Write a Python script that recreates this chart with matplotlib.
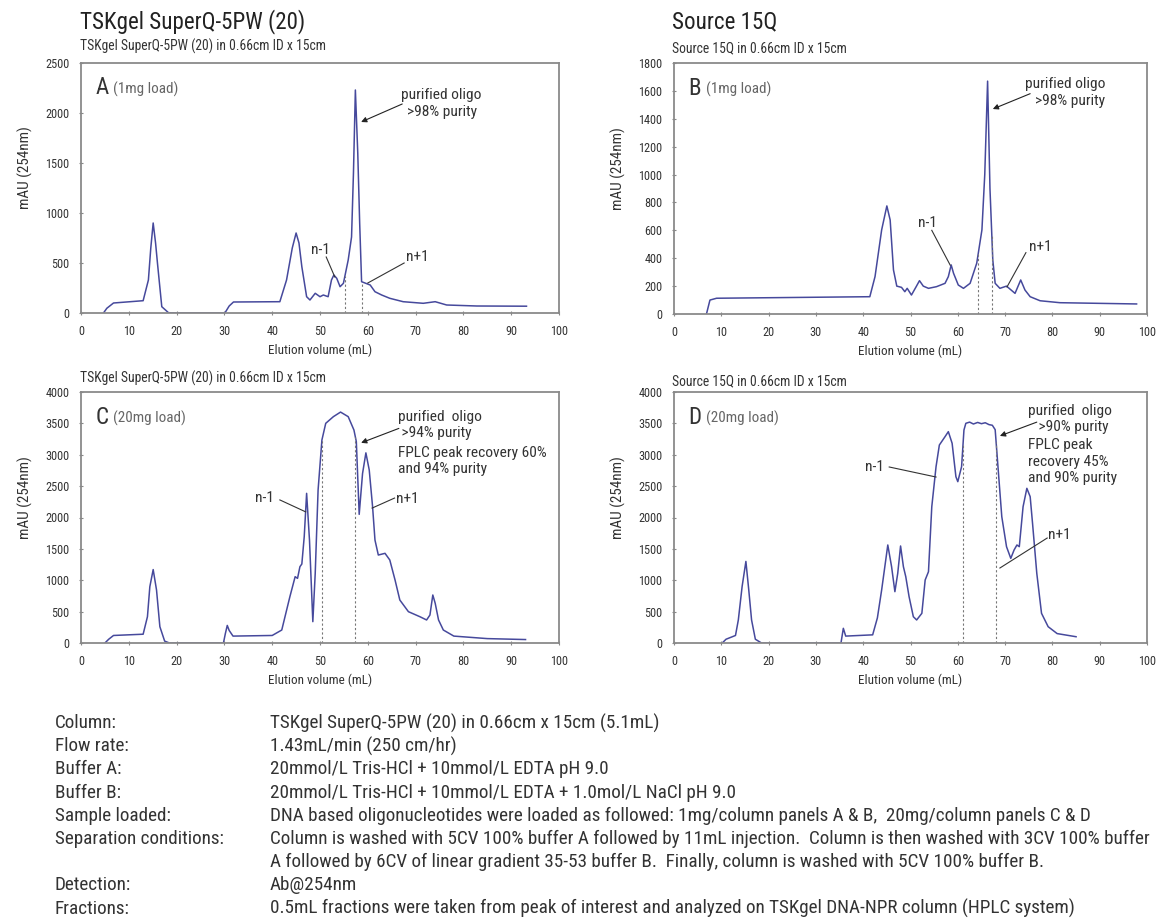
import numpy as np
import matplotlib
matplotlib.use("Agg")
import matplotlib.pyplot as plt
from matplotlib import font_manager as fm

# pick a condensed sans face if one is installed
prefs = ['Liberation Sans Narrow', 'Roboto Condensed', 'Open Sans Condensed',
         'Noto Sans Condensed', 'DejaVu Sans Condensed']
narrow = None
for p in prefs:
    key = p.replace(' ', '').lower()
    for f in fm.fontManager.ttflist:
        fn = f.fname.replace(' ', '').replace('-', '').lower()
        if key in fn and f.style == 'normal' and f.weight in (400, 'normal', 'regular'):
            narrow = f
            break
    if narrow is not None:
        break
if narrow is not None:
    plt.rcParams['font.family'] = [narrow.name, 'DejaVu Sans']
    plt.rcParams['font.stretch'] = narrow.stretch
else:
    plt.rcParams['font.family'] = ['Liberation Sans', 'DejaVu Sans']

# --- chromatogram traces (elution volume mL, mAU at 254nm) ---
a_x = [4.7, 5.4, 6.8, 13.0, 14.1, 14.6, 15.1, 15.6, 16.0, 16.9, 18.3, 20.0, 30.1, 31.0, 31.9,
       41.6, 43.0, 44.2, 45.0, 45.6, 46.2, 47.2, 47.9, 49.0, 50.0, 50.7, 51.7, 52.4, 52.9,
       53.5, 54.2, 54.9, 55.9, 56.6, 57.0, 57.4, 57.9, 58.3, 58.7, 60.5, 61.5, 62.9, 64.6,
       67.4, 71.6, 74.1, 76.5, 82.8, 93.2]
a_y = [0, 47, 100, 123, 330, 650, 900, 700, 497, 63, 3, 0, 0, 70, 110,
       113, 330, 650, 800, 700, 463, 163, 130, 197, 163, 180, 163, 330, 380,
       347, 263, 297, 530, 760, 1400, 2230, 1600, 900, 313, 280, 213, 180, 147,
       113, 97, 113, 80, 70, 68]

b_x = [6.9, 7.6, 9.0, 41.4, 42.5, 43.9, 45.0, 45.7, 46.4, 47.1, 48.1, 48.8, 49.3, 50.2,
       51.2, 51.9, 52.7, 53.8, 55.5, 57.3, 58.0, 58.6, 59.1, 60.1, 61.2, 62.6, 64.0, 65.1,
       65.7, 66.3, 66.8, 67.4, 67.9, 68.9, 70.3, 72.1, 73.3, 74.2, 75.3, 77.4, 81.6, 97.8]
b_y = [5, 100, 113, 124, 268, 603, 775, 674, 316, 200, 191, 160, 184, 136,
       196, 239, 200, 184, 196, 220, 268, 352, 292, 208, 184, 220, 364, 603,
       1000, 1670, 900, 387, 220, 184, 200, 148, 244, 172, 124, 95, 81, 72]

c_x = [5.0, 5.8, 6.8, 13.0, 13.9, 14.4, 15.1, 15.8, 16.5, 17.5, 18.5, 29.8, 30.2, 30.6,
       31.0, 31.8, 40.0, 42.0, 43.7, 44.8, 45.3, 45.8, 46.2, 46.7, 47.2, 47.8, 48.5, 49.0,
       49.6, 50.4, 51.2, 52.8, 54.3, 55.9, 57.1, 57.6, 58.2, 58.9, 59.6, 60.3, 61.0, 61.5,
       62.2, 63.6, 64.6, 65.7, 66.7, 68.5, 70.9, 72.3, 73.0, 73.6, 74.1, 74.8, 75.8, 78.0,
       85.0, 93.0]
c_y = [0, 60, 120, 140, 419, 897, 1170, 845, 260, 30, 0, 0, 150, 280,
       200, 110, 120, 207, 738, 1057, 1030, 1216, 1259, 1694, 2385, 1641, 340, 1110,
       2438, 3235, 3501, 3607, 3680, 3607, 3394, 3208, 2050, 2700, 3030, 2757, 2172, 1641,
       1402, 1429, 1323, 1004, 685, 499, 419, 367, 446, 765, 633, 367, 207, 110,
       70, 55]

d_x = [10.2, 11.0, 12.0, 13.0, 13.6, 14.4, 15.2, 15.8, 16.4, 17.2, 18.5, 35.3, 35.8, 36.3,
       42.0, 43.0, 43.9, 45.2, 46.0, 46.7, 47.3, 47.9, 48.5, 49.0, 49.7, 50.6, 51.3, 52.4,
       53.1, 53.8, 54.5, 55.4, 56.1, 57.3, 58.0, 58.8, 59.6, 60.0, 60.8, 61.3, 61.7, 62.5,
       63.3, 64.2, 65.0, 65.8, 66.6, 67.3, 67.9, 68.6, 69.3, 70.3, 71.2, 71.9, 72.5, 73.0,
       73.8, 74.6, 75.3, 75.8, 76.7, 77.7, 79.1, 81.0, 85.0]
d_y = [0, 60, 90, 120, 367, 900, 1300, 850, 367, 60, 0, 0, 234, 110,
       130, 400, 845, 1562, 1216, 818, 1110, 1546, 1216, 1057, 738, 419, 367, 473,
       1004, 1136, 2172, 2810, 3155, 3288, 3368, 3182, 2650, 2571, 2810, 3394, 3501, 3520,
       3490, 3515, 3495, 3510, 3480, 3470, 3400, 2704, 2013, 1535, 1349, 1482, 1562, 1535,
       2172, 2465, 2332, 1908, 1110, 473, 260, 150, 100]

# fraction cut lines (mL)
a_cuts = [55.2, 58.7]
b_cuts = [64.3, 67.2]
c_cuts = [50.4, 57.4]
d_cuts = [61.1, 68.1]

a_yticks = [0, 500, 1000, 1500, 2000, 2500]
b_yticks = [0, 200, 400, 600, 800, 1000, 1200, 1400, 1600, 1800]
cd_yticks = [0, 500, 1000, 1500, 2000, 2500, 3000, 3500, 4000]
x_ticks = list(range(0, 101, 10))

info_labels = ["Column:", "Flow rate:", "Buffer A:", "Buffer B:", "Sample loaded:",
               "Separation conditions:", "", "Detection:", "Fractions:"]
info_values = [
    "TSKgel SuperQ-5PW (20) in 0.66cm x 15cm (5.1mL)",
    "1.43mL/min (250 cm/hr)",
    "20mmol/L Tris-HCl + 10mmol/L EDTA pH 9.0",
    "20mmol/L Tris-HCl + 10mmol/L EDTA + 1.0mol/L NaCl pH 9.0",
    "DNA based oligonucleotides were loaded as followed: 1mg/column panels A & B,  20mg/column panels C & D",
    "Column is washed with 5CV 100% buffer A followed by 11mL injection.  Column is then washed with 3CV 100% buffer",
    "A followed by 6CV of linear gradient 35-53 buffer B.  Finally, column is washed with 5CV 100% buffer B.",
    "Ab@254nm",
    "0.5mL fractions were taken from peak of interest and analyzed on TSKgel DNA-NPR column (HPLC system)",
]

W, H = 1160, 919
fig = plt.figure(figsize=(W / 100, H / 100), dpi=100)
renderer = fig.canvas.get_renderer()


def fit(txt, target_px, base=10.0):
    t = fig.text(0, 0, txt, fontsize=base)
    w = t.get_window_extent(renderer).width
    t.remove()
    return base * target_px / w


fs_title = fit("TSKgel SuperQ-5PW (20)", 225)
fs_sub = fit("TSKgel SuperQ-5PW (20) in 0.66cm ID x 15cm", 245)
fs_info = fit(info_values[5], 876)
fs_note = fit("FPLC peak recovery 60%", 148)
fs_tick = fit("2500", 24)
fs_xlab = fit("Elution volume (mL)", 103)
fs_ylab = fit("mAU (254nm)", 82)
fs_load = fit("(1mg load)", 65)

line_col = '#46499c'
txt_col = '#333333'


def px_axes(left, top, right, bottom):
    return fig.add_axes([left / W, 1 - bottom / H, (right - left) / W, (bottom - top) / H])


def panel(ax, xs, ys, cuts, yticks, ymax, letter, load):
    ax.plot(xs, ys, color=line_col, lw=1.1)
    for c in cuts:
        ax.vlines(c, 0, np.interp(c, xs, ys), colors='#777777', lw=0.8, linestyles=(0, (2, 2)))
    ax.set_xlim(0, 100)
    ax.set_ylim(0, ymax)
    ax.set_xticks(x_ticks)
    ax.set_yticks(yticks)
    ax.tick_params(labelsize=fs_tick, colors='#888888', labelcolor=txt_col, length=3,
                   direction='inout', pad=7)
    for s in ax.spines.values():
        s.set_color('#8a8a8a')
        s.set_linewidth(1.3)
    ax.set_xlabel("Elution volume (mL)", fontsize=fs_xlab, color=txt_col, labelpad=4)
    ax.set_ylabel("mAU (254nm)", fontsize=fs_ylab, color=txt_col)
    ax.yaxis.set_label_coords(-48 / ax.bbox.width, 0.58)
    ax.text(0.03, 0.9, letter, transform=ax.transAxes, fontsize=fs_title, color=txt_col, va='center')
    ax.text(0.03 + 0.037, 0.895, load, transform=ax.transAxes, fontsize=fs_load, color='#666666',
            va='center')


def note_line(ax, p0, p1):
    ax.plot([p0[0], p1[0]], [p0[1], p1[1]], color='#333333', lw=0.8)


def note_arrow(ax, p0, p1):
    ax.annotate("", xy=p1, xytext=p0,
                arrowprops=dict(arrowstyle='-|>', color='#222222', lw=0.8,
                                mutation_scale=8, shrinkA=0, shrinkB=0))


ax_a = px_axes(81, 63, 559, 313)
ax_b = px_axes(674, 63, 1147, 314)
ax_c = px_axes(81, 392, 559, 643)
ax_d = px_axes(674, 392, 1147, 643)

panel(ax_a, a_x, a_y, a_cuts, a_yticks, 2500, "A", "(1mg load)")
panel(ax_b, b_x, b_y, b_cuts, b_yticks, 1800, "B", "(1mg load)")
panel(ax_c, c_x, c_y, c_cuts, cd_yticks, 4000, "C", "(20mg load)")
panel(ax_d, d_x, d_y, d_cuts, cd_yticks, 4000, "D", "(20mg load)")

# panel A notes
ax_a.text(67.0, 2180, "purified oligo", fontsize=fs_note, color=txt_col, va='center')
ax_a.text(68.3, 2010, ">98% purity", fontsize=fs_note, color=txt_col, va='center')
note_arrow(ax_a, (67.2, 2090), (58.6, 1910))
ax_a.text(50.0, 630, "n-1", fontsize=fs_note, color=txt_col, va='center', ha='center')
note_line(ax_a, (51.3, 560), (53.1, 360))
ax_a.text(68.0, 560, "n+1", fontsize=fs_note, color=txt_col, va='center')
note_line(ax_a, (67.6, 500), (60.0, 300))

# panel B notes
ax_b.text(74.2, 1650, "purified oligo", fontsize=fs_note, color=txt_col, va='center')
ax_b.text(76.3, 1530, ">98% purity", fontsize=fs_note, color=txt_col, va='center')
note_arrow(ax_b, (75.3, 1580), (67.4, 1470))
ax_b.text(53.5, 650, "n-1", fontsize=fs_note, color=txt_col, va='center', ha='center')
note_line(ax_b, (54.5, 600), (58.4, 350))
ax_b.text(75.0, 480, "n+1", fontsize=fs_note, color=txt_col, va='center')
note_line(ax_b, (74.4, 440), (70.4, 194))

# panel C notes
c_note = ["purified  oligo", " >94% purity", "FPLC peak recovery 60%", "and 94% purity"]
c_note_y = [3600, 3340, 3030, 2780]
for s, yy in zip(c_note, c_note_y):
    ax_c.text(66.3, yy, s, fontsize=fs_note, color=txt_col, va='center')
note_arrow(ax_c, (66.5, 3420), (58.6, 3190))
ax_c.text(38.3, 2310, "n-1", fontsize=fs_note, color=txt_col, va='center', ha='center')
note_line(ax_c, (41.6, 2280), (47.0, 2090))
ax_c.text(66.0, 2300, "n+1", fontsize=fs_note, color=txt_col, va='center')
note_line(ax_c, (65.6, 2310), (60.9, 2150))

# panel D notes
d_note = ["purified  oligo", "   >90% purity", "FPLC peak", "recovery 45%", "and 90% purity"]
d_note_y = [3700, 3440, 3160, 2890, 2630]
for s, yy in zip(d_note, d_note_y):
    ax_d.text(74.8, yy, s, fontsize=fs_note, color=txt_col, va='center')
note_arrow(ax_d, (76.7, 3520), (68.9, 3300))
ax_d.text(42.3, 2805, "n-1", fontsize=fs_note, color=txt_col, va='center', ha='center')
note_line(ax_d, (45.5, 2805), (55.4, 2645))
ax_d.text(79.0, 1720, "n+1", fontsize=fs_note, color=txt_col, va='center')
note_line(ax_d, (68.9, 1195), (78.9, 1673))

# headers
fig.text(80 / W, 1 - 22 / H, "TSKgel SuperQ-5PW (20)", fontsize=fs_title, color='#222222', va='center')
fig.text(672 / W, 1 - 22 / H, "Source 15Q", fontsize=fs_title, color='#222222', va='center')
sub_a = "TSKgel SuperQ-5PW (20) in 0.66cm ID x 15cm"
sub_b = "Source 15Q in 0.66cm ID x 15cm"
fig.text(80 / W, 1 - 46 / H, sub_a, fontsize=fs_sub, color=txt_col, va='center')
fig.text(672 / W, 1 - 48 / H, sub_b, fontsize=fs_sub, color=txt_col, va='center')
fig.text(80 / W, 1 - 378 / H, sub_a, fontsize=fs_sub, color=txt_col, va='center')
fig.text(672 / W, 1 - 381 / H, sub_b, fontsize=fs_sub, color=txt_col, va='center')

# method details
row0, step = 723, 23.2
for i, (lab, val) in enumerate(zip(info_labels, info_values)):
    yy = 1 - (row0 + i * step) / H
    fig.text(55 / W, yy, lab, fontsize=fs_info, color=txt_col, va='center')
    fig.text(270 / W, yy, val, fontsize=fs_info, color=txt_col, va='center')

fig.savefig("out.png", dpi=100)
